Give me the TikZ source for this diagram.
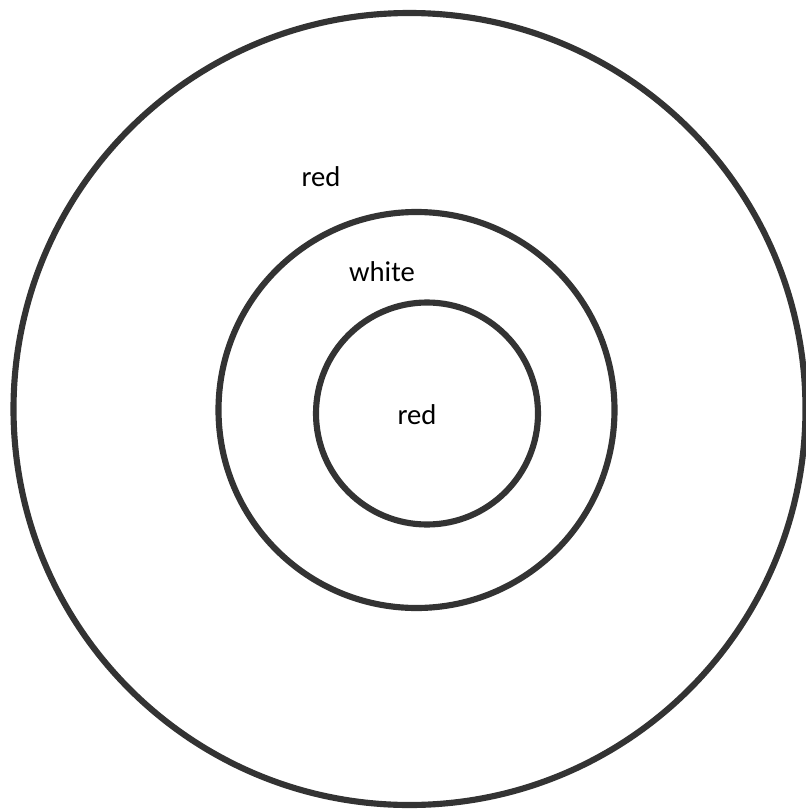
\documentclass[tikz,border=0pt]{standalone}
\usepackage{fontspec}
\setmainfont{Carlito}
\definecolor{ink}{HTML}{333333}
\tikzset{ring/.style={draw=ink,line width=4.6pt},lbl/.style={font=\fontsize{21.5}{25}\selectfont,text=black,inner sep=0pt}}
\begin{document}
\begin{tikzpicture}[x=0.75pt,y=-0.75pt]
\useasboundingbox (0,0) rectangle (806,810);
\draw[ring] (409.5,409) circle (396);
\draw[ring] (416.5,410) circle (198);
\draw[ring] (427,413.5) circle (111);
\node[lbl] (outerlbl) at (321,177) {red};
\node[lbl] (midlbl) at (382,272) {white};
\node[lbl] (innerlbl) at (417,415) {red};
\end{tikzpicture}
\end{document}
